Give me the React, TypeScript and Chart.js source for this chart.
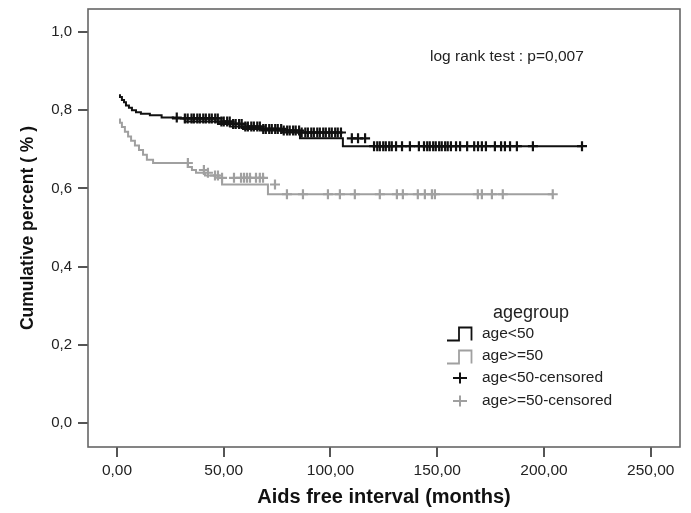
import React, { useEffect, useRef } from "react";
import { Chart, registerables } from "chart.js";

Chart.register(...registerables);

// ---------- data ----------
const xTicks = [0, 50, 100, 150, 200, 250];
const yTicks = [0, 0.2, 0.4, 0.6, 0.8, 1.0];

const seriesLabels = ["age<50", "age>=50", "age<50-censored", "age>=50-censored"];
const legendTitle = "agegroup";
const annotationText = "log rank test : p=0,007";
const xTitle = "Aids free interval (months)";
const yTitle = "Cumulative percent ( % )";

// age<50 Kaplan-Meier step curve
const youngTimes = [1.4, 2.3, 3.3, 4.2, 5.6, 7.0, 8.9, 11.2, 15.4, 20.9, 26.2, 31.8, 47.3, 52.9, 59.0, 67.9, 77.2, 85.7, 105.8, 119.9];
const youngSurv = [0.841, 0.834, 0.826, 0.82, 0.812, 0.806, 0.8, 0.795, 0.791, 0.787, 0.781, 0.779, 0.771, 0.765, 0.758, 0.752, 0.748, 0.743, 0.728, 0.708];
const youngEnd = 218.2;

// age>=50 Kaplan-Meier step curve
const oldTimes = [1.4, 2.3, 3.7, 5.2, 6.6, 8.4, 10.3, 12.2, 14.0, 16.9, 33.2, 35.1, 37.0, 41.2, 45.9, 49.2, 70.7, 79.6];
const oldSurv = [0.779, 0.768, 0.757, 0.745, 0.733, 0.722, 0.71, 0.698, 0.686, 0.673, 0.665, 0.655, 0.647, 0.64, 0.633, 0.627, 0.61, 0.585];
const oldEnd = 204.1;

// censored times
const youngCensored = [
  28.0, 31.8, 33.1, 34.9, 36.0, 37.6, 38.8, 40.4, 41.6, 43.2, 44.4, 46.0, 47.2, 48.9, 50.0, 51.6, 52.8,
  54.4, 55.6, 57.2, 58.4, 60.1, 61.3, 62.9, 64.1, 65.7, 66.9, 68.5, 69.7, 71.3, 72.5, 74.1, 75.3, 76.9,
  78.1, 79.7, 80.9, 82.5, 83.7, 85.3, 86.5, 88.2, 89.4, 91.0, 92.2, 93.8, 95.0, 96.6, 97.8, 99.4, 100.6,
  102.2, 103.4, 104.9, 110.0, 112.9, 116.2, 120.4, 121.9, 123.1, 124.7, 125.9, 127.5, 128.7, 130.7,
  133.5, 137.2, 141.4, 143.8, 145.3, 146.5, 148.1, 149.3, 150.9, 152.1, 153.7, 154.9, 156.4, 158.8,
  160.7, 164.0, 167.3, 169.1, 170.9, 172.8, 177.0, 179.9, 181.7, 184.1, 187.3, 194.8, 217.8
];
const oldCensored = [
  33.2, 40.7, 42.6, 45.9, 47.3, 49.2, 54.8, 58.1, 59.5, 60.9, 62.3, 65.1, 66.9, 68.4, 74.0, 79.6, 87.1,
  98.8, 104.4, 111.4, 123.1, 131.1, 133.9, 140.9, 144.2, 147.5, 148.9, 169.0, 170.9, 175.6, 180.7, 204.1
];

// ---------- helpers ----------
function stepPoints(times: number[], surv: number[], end: number) {
  const pts = times.map((t, i) => ({ x: t, y: surv[i] }));
  pts.push({ x: end, y: surv[surv.length - 1] });
  return pts;
}
function survAt(times: number[], surv: number[], t: number) {
  let v = surv[0];
  for (let i = 0; i < times.length; i++) if (times[i] <= t) v = surv[i];
  return v;
}

const FONT = "'Liberation Sans', Arial, sans-serif";
const BLACK = "#111111";
const GRAY = "#a0a0a0";

const framePlugin = {
  id: "frame",
  beforeDatasetsDraw(chart: any) {
    const { ctx, chartArea: a } = chart;
    ctx.save();
    ctx.strokeStyle = "#666666";
    ctx.lineWidth = 1.6;
    ctx.strokeRect(a.left, a.top, a.right - a.left, a.bottom - a.top);
    ctx.restore();
  },
};

const legendPlugin = {
  id: "kmLegend",
  afterDraw(chart: any) {
    const { ctx } = chart;
    ctx.save();
    ctx.textBaseline = "middle";
    ctx.textAlign = "left";
    ctx.fillStyle = "#222";
    ctx.font = `15.5px ${FONT}`;
    ctx.fillText(annotationText, 430, 57);

    ctx.font = `18px ${FONT}`;
    ctx.fillText(legendTitle, 493, 313);

    const stepIcon = (y: number, color: string) => {
      ctx.strokeStyle = color;
      ctx.lineWidth = 1.8;
      ctx.beginPath();
      ctx.moveTo(447, y + 6.5);
      ctx.lineTo(459, y + 6.5);
      ctx.lineTo(459, y - 6.5);
      ctx.lineTo(471.5, y - 6.5);
      ctx.lineTo(471.5, y + 6.5);
      ctx.stroke();
    };
    const crossIcon = (y: number, color: string) => {
      ctx.strokeStyle = color;
      ctx.lineWidth = 2;
      ctx.beginPath();
      ctx.moveTo(453, y);
      ctx.lineTo(467, y);
      ctx.moveTo(460, y - 5.5);
      ctx.lineTo(460, y + 5.5);
      ctx.stroke();
    };
    stepIcon(334, BLACK);
    stepIcon(357, GRAY);
    crossIcon(378, BLACK);
    crossIcon(401, GRAY);
    ctx.font = `15.5px ${FONT}`;
    ctx.fillStyle = "#222";
    ctx.fillText(seriesLabels[0], 482, 334);
    ctx.fillText(seriesLabels[1], 482, 356);
    ctx.fillText(seriesLabels[2], 482, 378);
    ctx.fillText(seriesLabels[3], 482, 401);
    ctx.restore();
  },
};

export default function App() {
  const ref = useRef<HTMLCanvasElement>(null);
  useEffect(() => {
    document.body.style.margin = "0";
    const canvas = ref.current;
    if (!canvas) return;
    const chart = new Chart(canvas, {
      type: "scatter",
      data: {
        datasets: [
          {
            label: seriesLabels[0],
            data: stepPoints(youngTimes, youngSurv, youngEnd),
            showLine: true,
            stepped: "after",
            borderColor: BLACK,
            borderWidth: 2,
            pointRadius: 0,
          },
          {
            label: seriesLabels[1],
            data: stepPoints(oldTimes, oldSurv, oldEnd),
            showLine: true,
            stepped: "after",
            borderColor: GRAY,
            borderWidth: 2,
            pointRadius: 0,
          },
          {
            label: seriesLabels[2],
            data: youngCensored.map((t) => ({ x: t, y: survAt(youngTimes, youngSurv, t) })),
            showLine: false,
            pointStyle: "cross",
            pointRadius: 5,
            borderColor: BLACK,
            borderWidth: 2.2,
          },
          {
            label: seriesLabels[3],
            data: oldCensored.map((t) => ({ x: t, y: survAt(oldTimes, oldSurv, t) })),
            showLine: false,
            pointStyle: "cross",
            pointRadius: 5,
            borderColor: GRAY,
            borderWidth: 2.2,
          },
        ],
      } as any,
      options: {
        animation: false,
        responsive: true,
        maintainAspectRatio: false,
        layout: { padding: { left: 0, top: 9, right: 11, bottom: 0 } },
        plugins: { legend: { display: false }, tooltip: { enabled: false } },
        scales: {
          x: {
            type: "linear",
            min: -13.58,
            max: 263.7,
            afterBuildTicks: (s: any) => {
              s.ticks = xTicks.map((v) => ({ value: v }));
            },
            afterFit: (s: any) => {
              s.height = 513 - 447;
              s.paddingLeft = 0;
              s.paddingRight = 0;
            },
            ticks: {
              callback: (v: any) => Number(v).toFixed(2).replace(".", ","),
              font: { size: 15.5, family: FONT },
              color: "#222",
              padding: 4,
              maxRotation: 0,
            },
            grid: { drawOnChartArea: false, drawTicks: true, tickLength: 10, color: "#555", lineWidth: 2 },
            border: { display: false },
            title: {
              display: true,
              text: xTitle,
              font: { size: 20, weight: "bold", family: FONT },
              color: "#111",
              padding: { top: 0, bottom: 4 },
            },
          },
          y: {
            type: "linear",
            min: -0.0614,
            max: 1.0588,
            afterBuildTicks: (s: any) => {
              s.ticks = yTicks.map((v) => ({ value: v }));
            },
            afterFit: (s: any) => {
              s.width = 88;
              s.paddingTop = 0;
              s.paddingBottom = 0;
            },
            ticks: {
              callback: (v: any) => Number(v).toFixed(1).replace(".", ","),
              font: { size: 15, family: FONT },
              color: "#222",
              padding: 6,
            },
            grid: { drawOnChartArea: false, drawTicks: true, tickLength: 10, color: "#555", lineWidth: 2 },
            border: { display: false },
            title: {
              display: true,
              text: yTitle,
              font: { size: 17.5, weight: "bold", family: FONT },
              color: "#111",
              padding: { top: 18, bottom: 0 },
            },
          },
        },
      } as any,
      plugins: [framePlugin, legendPlugin],
    });
    return () => chart.destroy();
  }, []);
  return (
    <div style={{ width: 691, height: 513, position: "relative" }}>
      <canvas ref={ref} />
    </div>
  );
}
